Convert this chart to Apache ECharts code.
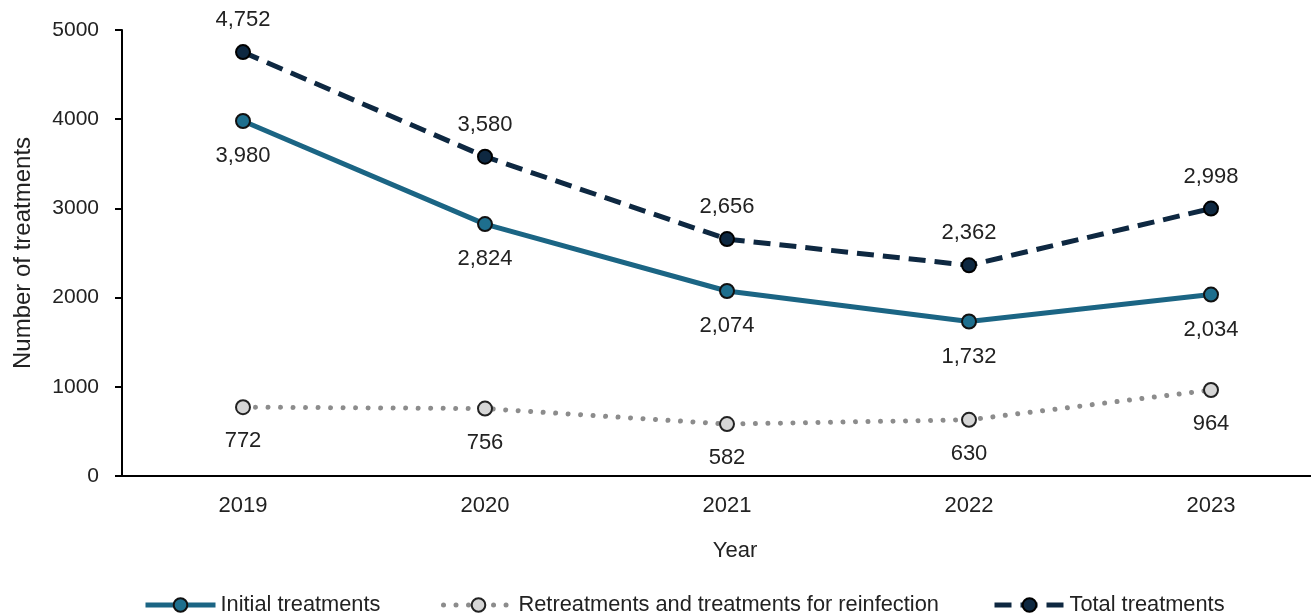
<!DOCTYPE html>
<html><head><meta charset="utf-8">
<script src="https://cdn.jsdelivr.net/npm/echarts@6/dist/echarts.min.js"></script>
<style>html,body{margin:0;padding:0;background:#fff}#c{width:1311px;height:616px}</style>
</head><body><div id="c"></div>
<script>
const years = ['2019','2020','2021','2022','2023'];
const initialTreatments = [3980, 2824, 2074, 1732, 2034];
const retreatments = [772, 756, 582, 630, 964];
const totalTreatments = [4752, 3580, 2656, 2362, 2998];
const yTicks = [0, 1000, 2000, 3000, 4000, 5000];

const font = 'Liberation Sans, Arial, sans-serif';
const fmt = v => v.value.toLocaleString('en-US');
const chart = echarts.init(document.getElementById('c'));

function legendItem(name, left, lineStyle) {
  return {
    data: [name], top: 594, left: left, padding: 0, itemWidth: 70, itemHeight: 17, itemGap: 0,
    lineStyle: lineStyle,
    textStyle: {fontSize: 21.8, color: '#222', fontFamily: font}
  };
}

chart.setOption({
  animation: false,
  textStyle: {fontFamily: font},
  grid: {left: 122, top: 30, width: 1210, height: 446, containLabel: false, outerBoundsMode: 'none'},
  xAxis: {
    type: 'category', data: years, boundaryGap: true,
    name: 'Year', nameLocation: 'middle', nameGap: 64,
    nameTextStyle: {fontSize: 22, color: '#222', padding: [0, 0, 0, 16]},
    axisLine: {lineStyle: {color: '#000', width: 2}},
    axisTick: {alignWithLabel: true, length: 5, lineStyle: {color: '#000', width: 2}},
    axisLabel: {fontSize: 22, color: '#222', margin: 19}
  },
  yAxis: {
    type: 'value', min: yTicks[0], max: yTicks[yTicks.length-1], interval: 1000,
    name: 'Number of treatments', nameLocation: 'middle', nameGap: 87,
    nameTextStyle: {fontSize: 24, color: '#222'},
    axisLine: {show: true, lineStyle: {color: '#000', width: 2}},
    axisTick: {show: true, length: 7, lineStyle: {color: '#000', width: 2}},
    axisLabel: {fontSize: 21, color: '#222', margin: 23, formatter: v => String(v)},
    splitLine: {show: false}
  },
  legend: [
    legendItem('Initial treatments', 143, {width: 5}),
    legendItem('Retreatments and treatments for reinfection', 441, {width: 5, cap: 'round'}),
    legendItem('Total treatments', 992, {width: 5})
  ],
  series: [
    {
      name: 'Initial treatments', type: 'line', data: initialTreatments,
      symbol: 'circle', symbolSize: 14,
      lineStyle: {color: '#1B6584', width: 5},
      itemStyle: {color: '#1E6F8E', borderColor: '#111', borderWidth: 2},
      label: {show: true, position: 'bottom', distance: 16, fontSize: 22, color: '#222', formatter: fmt}
    },
    {
      name: 'Retreatments and treatments for reinfection', type: 'line', data: retreatments,
      symbol: 'circle', symbolSize: 14,
      lineStyle: {color: '#8C8C8C', width: 5, type: [0.01, 12.5], cap: 'round'},
      itemStyle: {color: '#D6D6D6', borderColor: '#222', borderWidth: 2},
      label: {show: true, position: 'bottom', distance: 15, fontSize: 22, color: '#222', formatter: fmt}
    },
    {
      name: 'Total treatments', type: 'line', data: totalTreatments,
      symbol: 'circle', symbolSize: 14,
      lineStyle: {color: '#0E2841', width: 5, type: [17, 9]},
      itemStyle: {color: '#0E2841', borderColor: '#000', borderWidth: 2},
      label: {show: true, position: 'top', distance: 13, fontSize: 22, color: '#222', formatter: fmt}
    }
  ]
});
</script></body></html>
